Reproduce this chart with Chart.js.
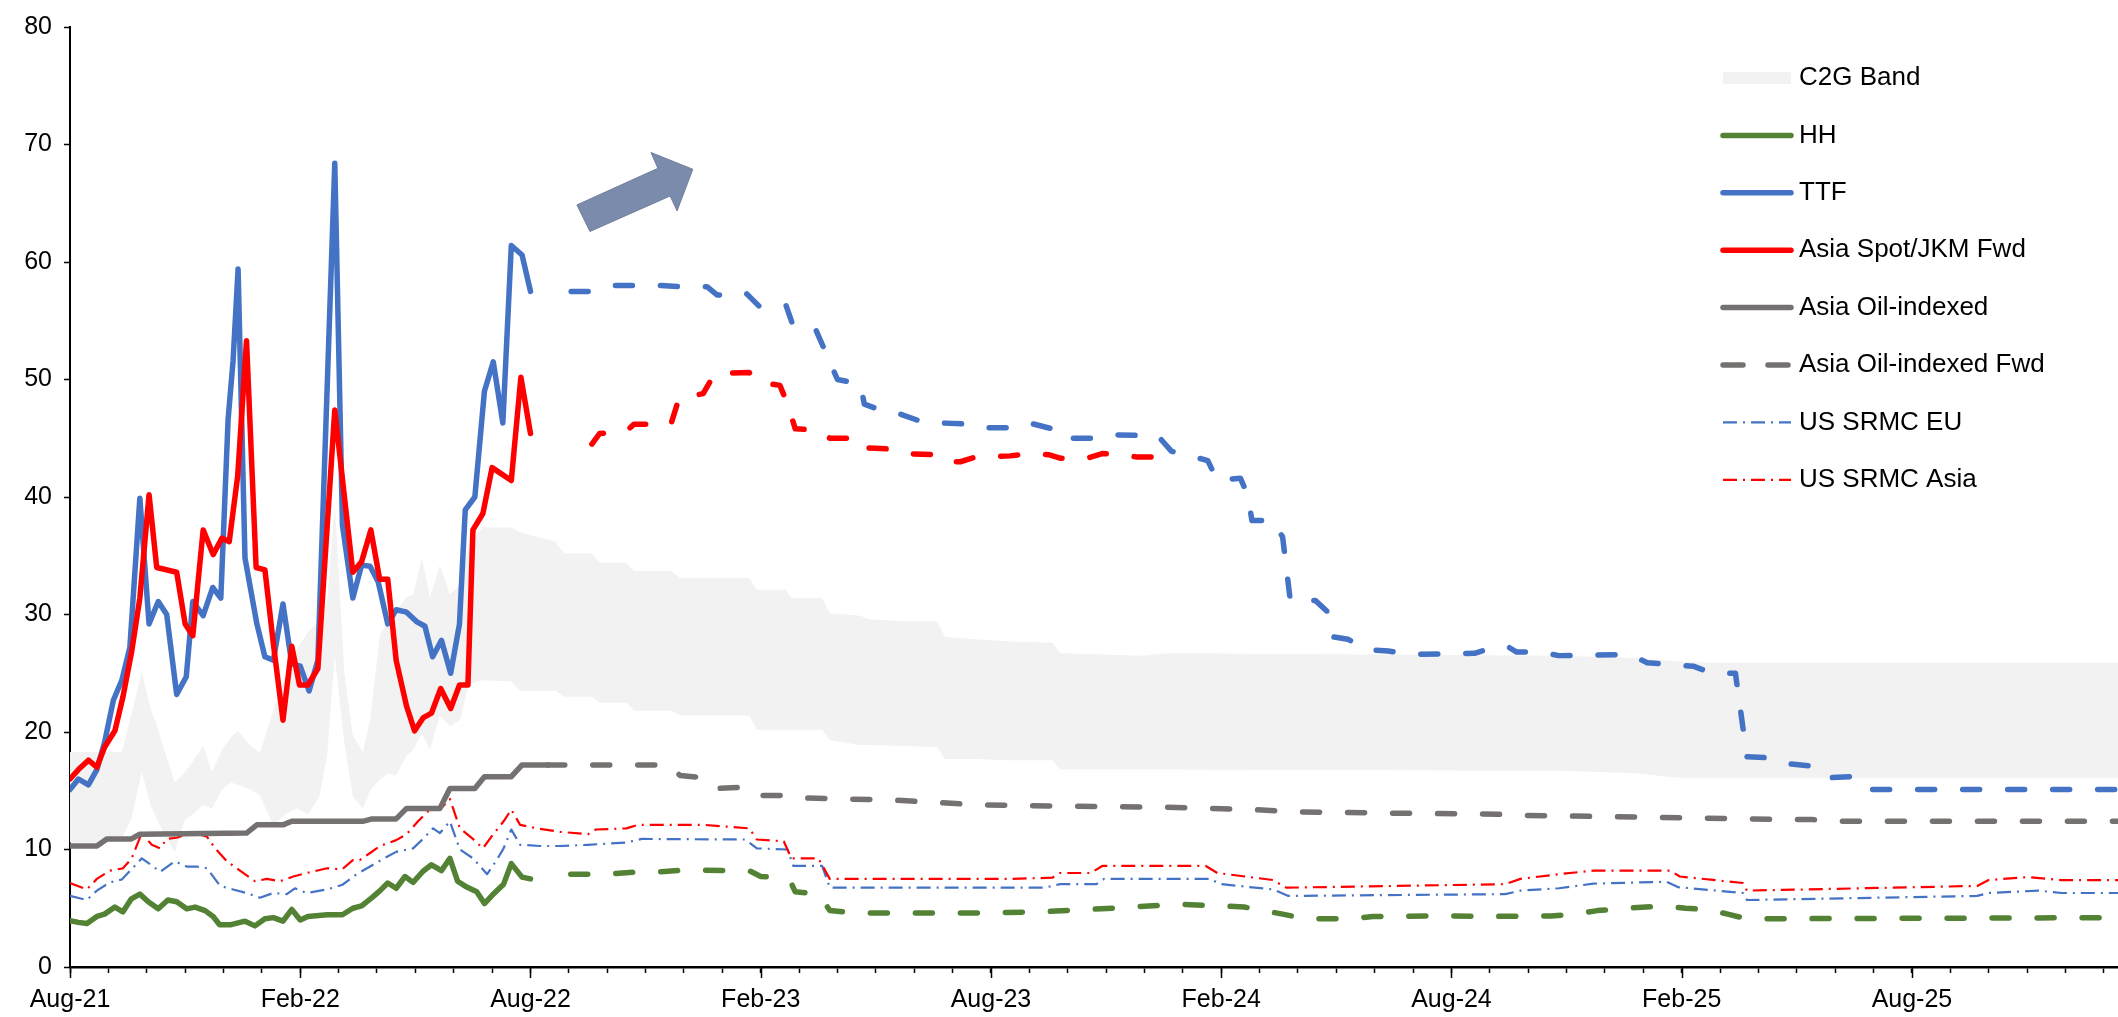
<!DOCTYPE html>
<html>
<head>
<meta charset="utf-8">
<script src="https://cdn.jsdelivr.net/npm/chart.js"></script>
<style>
  html, body { margin: 0; padding: 0; background: #fff; }
  canvas { display: block; }
</style>
</head>
<body>
<canvas id="gasChart" width="2118" height="1017"></canvas>
<script>
// x values are months counted from Aug-21 (0 = Aug-21, 6 = Feb-22, ...)
const tickLabels = ['Aug-21', 'Feb-22', 'Aug-22', 'Feb-23', 'Aug-23', 'Feb-24', 'Aug-24', 'Feb-25', 'Aug-25'];

// C2G band (lower / upper edge)
const bandMonths = [0, 0.5, 1.0, 1.35, 1.6, 1.87, 2.1, 2.26, 2.5, 2.73, 3.0, 3.2, 3.47, 3.7, 3.96, 4.2, 4.38, 4.7, 4.95, 5.3, 5.6, 5.9, 6.2, 6.5, 6.7, 6.9, 7.15, 7.37, 7.63, 7.82, 8.08, 8.3, 8.5, 8.77, 8.94, 9.17, 9.38, 9.64, 9.9, 10.16, 10.4, 10.76, 11.5, 11.73, 12.66, 12.87, 13.6, 13.8, 14.5, 14.7, 15.66, 15.9, 17.7, 17.9, 18.65, 18.8, 19.6, 19.8, 20.6, 20.8, 21.8, 22.6, 22.8, 23.55, 24.5, 25.6, 25.8, 27.96, 28.6, 38.8, 40.8, 41.9, 42.7, 53.4];
const bandLow = [10.6, 10.6, 10.6, 11.0, 12.6, 16.6, 13.8, 12.6, 11.0, 9.8, 12.6, 13.0, 13.8, 13.5, 15.1, 15.7, 15.5, 15.1, 14.6, 12.0, 13.0, 13.5, 13.0, 14.5, 18.0, 26.5, 19.1, 14.5, 13.5, 15.0, 16.0, 16.5, 16.3, 18.0, 18.5, 19.9, 18.5, 21.4, 20.5, 21.0, 24.1, 24.4, 24.3, 23.5, 23.5, 23.0, 23.0, 22.5, 22.5, 21.8, 21.8, 21.4, 21.4, 20.2, 20.2, 20.2, 20.2, 19.3, 18.9, 18.9, 18.8, 18.7, 17.7, 17.7, 17.6, 17.6, 16.8, 16.8, 16.8, 16.7, 16.5, 16.1, 16.1, 16.1];
const bandHigh = [18.3, 18.3, 18.3, 18.3, 21.5, 25.1, 22.0, 20.6, 18.0, 15.7, 16.6, 17.5, 18.8, 16.6, 18.5, 19.6, 20.1, 18.8, 18.25, 21.9, 24.5, 27.0, 28.5, 29.5, 31.0, 39.5, 25.0, 19.7, 18.3, 21.0, 28.3, 29.5, 30.3, 31.5, 31.7, 34.8, 31.5, 34.2, 31.7, 32.5, 36.0, 37.4, 37.4, 37.0, 36.2, 35.2, 35.2, 34.4, 34.4, 33.7, 33.7, 33.1, 33.1, 32.1, 32.1, 31.4, 31.4, 30.1, 29.9, 29.6, 29.4, 29.4, 28.1, 27.9, 27.7, 27.6, 26.7, 26.5, 26.7, 26.5, 26.3, 26.0, 25.9, 25.9];

// [month, value]
const hhHist = [[0, 3.95], [0.22, 3.8], [0.44, 3.7], [0.7, 4.3], [0.9, 4.5], [1.17, 5.1], [1.38, 4.7], [1.6, 5.8], [1.82, 6.2], [2.04, 5.55], [2.3, 4.95], [2.55, 5.7], [2.78, 5.55], [3.04, 4.95], [3.26, 5.1], [3.52, 4.8], [3.73, 4.3], [3.9, 3.6], [4.2, 3.6], [4.56, 3.9], [4.82, 3.5], [5.08, 4.1], [5.3, 4.2], [5.55, 3.9], [5.78, 4.9], [6.0, 4.0], [6.2, 4.3], [6.7, 4.45], [7.1, 4.45], [7.37, 5.0], [7.6, 5.2], [7.87, 5.9], [8.08, 6.5], [8.28, 7.15], [8.5, 6.7], [8.73, 7.7], [8.94, 7.2], [9.2, 8.15], [9.42, 8.7], [9.68, 8.2], [9.9, 9.25], [10.1, 7.3], [10.34, 6.8], [10.6, 6.4], [10.8, 5.4], [11.0, 6.1], [11.3, 7.05], [11.5, 8.8], [11.78, 7.65], [12.0, 7.5]];
const hhFwd = [[13.05, 7.9], [13.65, 7.9], [14.2, 7.95], [14.8, 8.1], [15.4, 8.1], [16.0, 8.25], [17.7, 8.2], [18.0, 7.7], [18.25, 7.65], [18.8, 7.1], [18.9, 6.4], [19.2, 6.3], [19.6, 5.8], [19.8, 4.8], [20.5, 4.6], [23.8, 4.6], [25.3, 4.7], [26.5, 4.9], [27.7, 5.1], [28.85, 5.35], [30.0, 5.2], [30.6, 5.1], [31.1, 4.8], [31.6, 4.5], [32.2, 4.1], [33.4, 4.1], [33.95, 4.3], [35.7, 4.35], [36.9, 4.3], [38.6, 4.35], [39.2, 4.5], [39.8, 4.8], [40.35, 4.95], [41.5, 5.2], [42.1, 5.0], [42.65, 4.9], [43.2, 4.5], [43.7, 4.1], [53.4, 4.2]];

const ttfHist = [[0, 15.1], [0.22, 16.0], [0.48, 15.5], [0.7, 16.8], [0.9, 19.1], [1.13, 22.7], [1.35, 24.4], [1.56, 27.2], [1.82, 39.9], [2.06, 29.2], [2.3, 31.1], [2.52, 30.0], [2.78, 23.2], [3.03, 24.7], [3.2, 31.1], [3.47, 29.9], [3.72, 32.3], [3.93, 31.4], [4.12, 46.6], [4.25, 51.6], [4.38, 59.4], [4.56, 34.8], [4.87, 29.2], [5.08, 26.4], [5.3, 26.1], [5.55, 30.9], [5.78, 25.8], [6.0, 25.6], [6.23, 23.5], [6.46, 26.1], [6.9, 68.4], [7.1, 37.6], [7.37, 31.4], [7.6, 34.2], [7.82, 34.1], [8.03, 32.8], [8.28, 29.2], [8.5, 30.4], [8.77, 30.2], [9.03, 29.4], [9.25, 29.0], [9.45, 26.4], [9.68, 27.8], [9.92, 25.0], [10.15, 29.2], [10.3, 38.9], [10.55, 40.0], [10.8, 49.0], [11.03, 51.5], [11.28, 46.3], [11.5, 61.4], [11.78, 60.6], [12.0, 57.5]];
const ttfFwd = [[13.06, 57.5], [13.6, 57.5], [14.2, 58.0], [15.4, 58.0], [15.87, 57.9], [16.6, 57.9], [16.86, 57.2], [17.0, 57.2], [17.6, 57.4], [17.97, 56.2], [18.66, 56.3], [18.84, 54.6], [19.44, 54.2], [19.6, 53.0], [20.0, 50.0], [20.6, 49.6], [20.7, 47.9], [21.2, 47.3], [21.6, 47.1], [22.2, 46.4], [22.7, 46.3], [23.4, 46.2], [23.8, 45.9], [24.5, 45.9], [25.0, 46.3], [25.6, 45.8], [25.8, 45.0], [26.6, 45.0], [27.1, 45.3], [28.35, 45.2], [28.7, 43.9], [29.2, 43.5], [29.65, 43.1], [29.9, 41.4], [30.5, 41.6], [30.7, 40.1], [30.8, 38.0], [31.35, 38.0], [31.6, 36.6], [31.8, 31.2], [32.45, 31.2], [32.75, 30.3], [32.9, 28.1], [33.3, 27.9], [33.8, 27.0], [34.35, 26.9], [34.9, 26.6], [36.6, 26.7], [37.2, 27.3], [37.5, 27.2], [37.7, 26.8], [38.3, 26.8], [38.8, 26.5], [40.65, 26.6], [41.1, 25.9], [42.3, 25.6], [42.8, 25.0], [43.4, 25.0], [43.7, 17.9], [44.3, 17.8], [44.8, 17.3], [45.35, 17.1], [45.8, 16.1], [46.4, 16.2], [46.8, 15.1], [53.4, 15.1]];

const jkmHist = [[0, 16.0], [0.22, 16.8], [0.48, 17.6], [0.7, 17.0], [0.9, 18.7], [1.17, 20.1], [1.38, 23.0], [1.61, 26.9], [1.82, 31.4], [2.06, 40.2], [2.26, 34.0], [2.78, 33.6], [3.0, 29.2], [3.2, 28.2], [3.47, 37.2], [3.73, 35.1], [3.96, 36.5], [4.15, 36.2], [4.37, 41.8], [4.6, 53.3], [4.85, 34.0], [5.08, 33.8], [5.3, 27.5], [5.55, 21.0], [5.78, 27.3], [5.98, 24.0], [6.2, 24.0], [6.46, 25.4], [6.9, 47.4], [7.37, 33.6], [7.6, 34.5], [7.84, 37.2], [8.07, 33.0], [8.28, 33.0], [8.5, 26.1], [8.77, 22.2], [8.98, 20.1], [9.2, 21.2], [9.42, 21.6], [9.66, 23.7], [9.92, 22.0], [10.15, 24.0], [10.37, 24.0], [10.5, 37.2], [10.76, 38.6], [11.0, 42.5], [11.5, 41.4], [11.75, 50.2], [12.0, 45.4]];
const jkmFwd = [[13.6, 44.5], [13.8, 45.4], [14.5, 45.6], [14.7, 46.2], [15.66, 46.2], [15.87, 48.4], [16.5, 48.8], [16.8, 50.5], [17.7, 50.6], [17.9, 49.8], [18.5, 49.5], [18.7, 47.9], [18.9, 45.8], [19.5, 45.7], [19.8, 45.0], [20.45, 45.0], [20.6, 44.2], [21.3, 44.1], [21.7, 43.7], [22.6, 43.6], [22.9, 43.0], [23.2, 43.0], [23.6, 43.4], [24.5, 43.5], [25.0, 43.7], [25.5, 43.6], [25.8, 43.3], [26.5, 43.3], [26.9, 43.7], [27.4, 43.6], [27.8, 43.4], [28.5, 43.4]];

const oilHist = [[0, 10.3], [0.7, 10.3], [0.96, 10.9], [1.6, 10.9], [1.82, 11.3], [4.6, 11.4], [4.87, 12.1], [5.55, 12.1], [5.78, 12.4], [7.63, 12.4], [7.87, 12.6], [8.5, 12.6], [8.77, 13.5], [9.64, 13.5], [9.9, 15.2], [10.55, 15.2], [10.8, 16.2], [11.5, 16.2], [11.78, 17.2], [12.45, 17.2]];
const oilFwd = [[12.45, 17.2], [15.6, 17.2], [15.9, 16.3], [16.5, 16.1], [16.9, 15.2], [17.5, 15.3], [17.9, 14.6], [18.65, 14.6], [18.9, 14.4], [20.2, 14.3], [21.5, 14.2], [22.6, 14.0], [23.7, 13.8], [25.5, 13.7], [28.5, 13.6], [30.8, 13.4], [32.0, 13.2], [34.3, 13.1], [37.2, 13.0], [37.8, 12.9], [40.1, 12.8], [43.7, 12.6], [45.4, 12.55], [46.0, 12.4], [53.4, 12.4]];

const srmcEu = [[0, 6.05], [0.44, 5.7], [0.7, 6.5], [1.04, 7.2], [1.35, 7.45], [1.6, 8.3], [1.87, 9.25], [2.17, 8.55], [2.35, 8.1], [2.73, 9.0], [3.04, 8.55], [3.3, 8.55], [3.57, 8.4], [3.91, 6.9], [4.25, 6.6], [4.6, 6.3], [4.95, 5.9], [5.3, 6.3], [5.65, 6.2], [5.86, 6.7], [6.17, 6.3], [6.7, 6.6], [7.1, 7.0], [7.47, 7.9], [7.82, 8.55], [8.16, 9.2], [8.5, 9.8], [8.94, 10.1], [9.2, 10.9], [9.46, 11.8], [9.64, 11.4], [9.9, 12.4], [10.16, 10.0], [10.5, 9.25], [10.87, 7.9], [11.1, 9.0], [11.3, 10.1], [11.5, 11.7], [11.73, 10.4], [12.25, 10.3], [12.77, 10.3], [13.5, 10.4], [14.5, 10.6], [14.9, 10.9], [17.6, 10.85], [17.9, 10.1], [18.7, 10.0], [18.85, 8.6], [19.6, 8.6], [19.8, 6.75], [25.4, 6.75], [25.8, 7.05], [26.75, 7.05], [26.95, 7.5], [29.7, 7.5], [30.0, 7.05], [31.35, 6.6], [31.75, 6.05], [37.4, 6.2], [37.8, 6.5], [38.8, 6.7], [39.7, 7.1], [41.6, 7.25], [41.9, 6.8], [43.6, 6.3], [43.7, 5.7], [49.7, 6.05], [50.0, 6.3], [51.3, 6.5], [51.9, 6.3], [53.4, 6.3]];
const srmcAsia = [[0, 7.15], [0.44, 6.6], [0.7, 7.5], [1.04, 8.2], [1.38, 8.4], [1.6, 9.2], [1.87, 11.4], [2.13, 10.4], [2.35, 10.1], [2.52, 10.9], [2.78, 11.0], [3.04, 11.3], [3.26, 11.4], [3.57, 11.1], [3.78, 10.1], [4.09, 9.0], [4.43, 8.2], [4.82, 7.3], [5.13, 7.5], [5.47, 7.3], [5.82, 7.7], [6.17, 8.0], [6.7, 8.4], [7.09, 8.3], [7.37, 9.1], [7.55, 9.1], [7.82, 9.7], [8.08, 10.3], [8.5, 10.8], [8.77, 11.3], [9.07, 12.4], [9.38, 13.4], [9.64, 13.4], [9.9, 14.3], [10.16, 11.8], [10.5, 10.9], [10.76, 10.1], [11.03, 11.3], [11.3, 12.4], [11.5, 13.4], [11.73, 12.1], [12.17, 11.8], [12.77, 11.5], [13.5, 11.3], [13.7, 11.7], [14.5, 11.8], [14.8, 12.1], [16.5, 12.1], [17.7, 11.8], [17.9, 10.85], [18.6, 10.7], [18.8, 9.25], [19.5, 9.25], [19.8, 7.5], [24.5, 7.5], [25.6, 7.6], [25.8, 8.0], [26.6, 8.0], [26.9, 8.6], [29.6, 8.6], [29.9, 8.0], [31.35, 7.4], [31.7, 6.75], [37.4, 7.05], [37.8, 7.5], [38.8, 7.9], [39.7, 8.2], [41.7, 8.2], [41.95, 7.7], [43.6, 7.15], [43.7, 6.5], [49.7, 6.9], [50.0, 7.4], [51.0, 7.65], [51.9, 7.4], [53.4, 7.4]];

const xMax = 53.37;

// colours / line styles
const GREEN = '#548235', BLUE = '#4472C4', RED = '#FF0000', GREY = '#767171', BAND = '#F2F2F2';
const FWD_DASH = [17, 28];
const DASH_DOT = [14, 6, 2, 6];

const pts = arr => arr.map(p => ({ x: p[0], y: p[1] }));

const line = (label, arr, color, opts) => Object.assign({
    label: label,
    data: pts(arr),
    borderColor: color,
    borderWidth: 5.5,
    pointRadius: 0,
    tension: 0,
    fill: false,
    borderCapStyle: 'round',
    borderJoinStyle: 'round'
}, opts || {});

const datasets = [
    { label: 'C2G low', data: bandMonths.map((m, i) => ({ x: m, y: bandLow[i] })), borderWidth: 0, pointRadius: 0, fill: false, order: 20 },
    { label: 'C2G Band', data: bandMonths.map((m, i) => ({ x: m, y: bandHigh[i] })), borderWidth: 0, pointRadius: 0, fill: '-1', backgroundColor: BAND, order: 19 },
    line('US SRMC EU', srmcEu, BLUE, { borderWidth: 2.2, borderDash: DASH_DOT, borderCapStyle: 'butt', order: 9 }),
    line('US SRMC Asia', srmcAsia, RED, { borderWidth: 2.2, borderDash: DASH_DOT, borderCapStyle: 'butt', order: 8 }),
    line('Asia Oil-indexed', oilHist, GREY, { order: 7 }),
    line('Asia Oil-indexed Fwd', oilFwd, GREY, { borderDash: FWD_DASH, order: 7 }),
    line('HH', hhHist, GREEN, { order: 6 }),
    line('HH Fwd', hhFwd, GREEN, { borderDash: FWD_DASH, order: 6 }),
    line('TTF', ttfHist, BLUE, { order: 5 }),
    line('TTF Fwd', ttfFwd, BLUE, { borderDash: FWD_DASH, order: 5 }),
    line('Asia Spot/JKM Fwd', jkmHist, RED, { order: 4 }),
    line('JKM Fwd', jkmFwd, RED, { borderDash: FWD_DASH, order: 4 })
];

const legendItems = [
    { label: 'C2G Band', box: BAND },
    { label: 'HH', color: GREEN, width: 5.5 },
    { label: 'TTF', color: BLUE, width: 5.5 },
    { label: 'Asia Spot/JKM Fwd', color: RED, width: 5.5 },
    { label: 'Asia Oil-indexed', color: GREY, width: 5.5 },
    { label: 'Asia Oil-indexed Fwd', color: GREY, width: 5.5, dash: [20, 25] },
    { label: 'US SRMC EU', color: BLUE, width: 2.2, dash: DASH_DOT },
    { label: 'US SRMC Asia', color: RED, width: 2.2, dash: DASH_DOT }
];

// block arrow, corners in chart units (month, value)
const arrowShape = [[13.55, 62.6], [13.21, 64.86], [15.32, 67.97], [15.14, 69.32], [16.23, 67.89], [15.82, 64.35], [15.64, 65.62]];

const extras = {
    id: 'extras',
    afterDatasetsDraw(chart) {
        const { ctx, chartArea, scales } = chart;
        const x = scales.x, y = scales.y;

        // arrow
        ctx.save();
        ctx.beginPath();
        arrowShape.forEach((p, i) => {
            const px = x.getPixelForValue(p[0]), py = y.getPixelForValue(p[1]);
            if (i === 0) ctx.moveTo(px, py); else ctx.lineTo(px, py);
        });
        ctx.closePath();
        ctx.fillStyle = '#7B8BAB';
        ctx.fill();
        ctx.strokeStyle = '#6E7E9C';
        ctx.lineWidth = 1;
        ctx.stroke();
        ctx.restore();

        // longer ticks at the labelled months
        ctx.save();
        ctx.strokeStyle = '#000';
        ctx.lineWidth = 1.5;
        tickLabels.forEach((t, i) => {
            const px = Math.round(x.getPixelForValue(i * 6)) + 0.5;
            ctx.beginPath();
            ctx.moveTo(px, chartArea.bottom);
            ctx.lineTo(px, chartArea.bottom + 11);
            ctx.stroke();
        });
        ctx.restore();

        // legend
        const x0 = chartArea.right - 397, x1 = chartArea.right - 325, tx = chartArea.right - 319;
        legendItems.forEach((it, i) => {
            const ly = chartArea.top + 51 + i * 57.4;
            ctx.save();
            if (it.box) {
                ctx.fillStyle = it.box;
                ctx.fillRect(x0 + 2, ly - 6, x1 - x0 - 4, 12);
            } else {
                ctx.strokeStyle = it.color;
                ctx.lineWidth = it.width;
                ctx.setLineDash(it.dash || []);
                ctx.lineCap = it.width > 3 ? 'round' : 'butt';
                ctx.beginPath();
                ctx.moveTo(x0 + 2, ly);
                ctx.lineTo(x1 - 2, ly);
                ctx.stroke();
            }
            ctx.fillStyle = '#000';
            ctx.font = '26px "Liberation Sans", Arial, sans-serif';
            ctx.textBaseline = 'middle';
            ctx.textAlign = 'left';
            ctx.fillText(it.label, tx, ly);
            ctx.restore();
        });
    }
};

Chart.defaults.font.family = '"Liberation Sans", Arial, sans-serif';
Chart.defaults.color = '#000';

new Chart(document.getElementById('gasChart'), {
    type: 'line',
    data: { datasets: datasets },
    options: {
        responsive: false,
        devicePixelRatio: 1,
        animation: false,
        layout: { padding: { top: 16, left: 0, right: 0, bottom: 0 } },
        plugins: { legend: { display: false }, tooltip: { enabled: false } },
        scales: {
            x: {
                type: 'linear',
                min: 0,
                max: xMax,
                afterBuildTicks: scale => { scale.ticks = Array.from({ length: 54 }, (_, i) => ({ value: i })); },
                afterFit: scale => { scale.height = 50; },
                ticks: {
                    autoSkip: false,
                    maxRotation: 0,
                    minRotation: 0,
                    padding: 12,
                    font: { size: 25 },
                    callback: v => (v % 6 === 0 && tickLabels[v / 6]) ? tickLabels[v / 6] : ''
                },
                grid: { drawOnChartArea: false, tickLength: 6, tickColor: '#000', tickWidth: 1.5 },
                border: { color: '#000', width: 2.5 }
            },
            y: {
                min: 0,
                max: 80,
                afterFit: scale => { scale.width = 70; },
                ticks: { stepSize: 10, padding: 12, font: { size: 25 } },
                grid: { drawOnChartArea: false, tickLength: 6, tickColor: '#000', tickWidth: 1.5 },
                border: { color: '#000', width: 2 }
            }
        }
    },
    plugins: [extras]
});
</script>
</body>
</html>
